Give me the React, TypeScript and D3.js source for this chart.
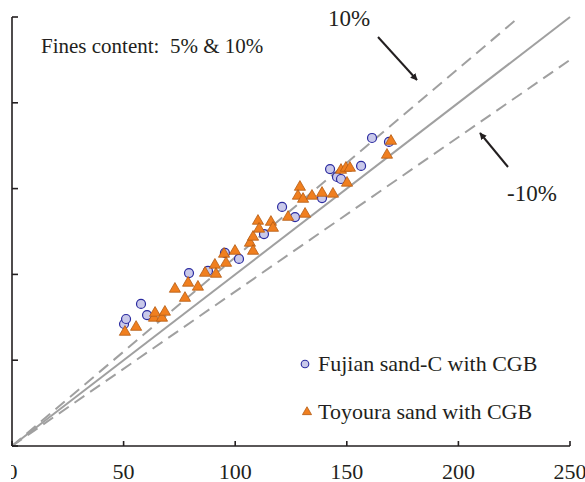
import React, { useRef, useEffect } from 'react';
import * as d3 from 'd3';

const fujianX = [50.2, 51.1, 57.8, 60.5, 79.3, 87.8, 95.4, 101.7, 112.9, 121.0, 126.8, 138.9, 142.5, 145.6, 147.4, 156.4, 161.3, 168.9];
const fujianY = [71.1, 74.0, 82.8, 76.3, 100.8, 102.0, 112.5, 109.0, 123.5, 139.3, 133.4, 144.5, 161.4, 156.8, 155.6, 163.2, 179.5, 177.2];

const toyouraX = [50.6, 55.6, 63.6, 64.1, 67.2, 68.5, 73.0, 77.5, 78.9, 83.3, 86.5, 90.9, 91.4, 95.0, 95.9, 99.9, 106.6, 108.0, 108.0, 110.2, 110.7, 116.0, 116.9, 123.7, 129.0, 128.1, 130.4, 131.3, 134.4, 138.9, 143.8, 147.4, 149.6, 151.4, 150.1, 168.0, 169.8];
const toyouraY = [66.4, 69.3, 74.6, 77.5, 74.6, 78.1, 91.5, 86.2, 95.0, 92.7, 100.8, 105.5, 100.2, 111.9, 106.6, 113.6, 118.3, 121.8, 113.6, 131.1, 126.5, 130.5, 127.0, 133.4, 150.9, 145.7, 143.9, 135.2, 145.7, 147.4, 146.9, 160.8, 162.0, 162.0, 153.3, 169.6, 177.7];

const xTicks = [0, 50, 100, 150, 200, 250];
const yTicks = [0, 50, 100, 150, 200, 250];

const legendLabels = ['Fujian sand-C with CGB', 'Toyoura sand with CGB'];

const FONT = '"Liberation Serif", "Times New Roman", serif';
const AXIS = '#231f20';
const GUIDE = '#a0a0a0';
const CIRCLE_FILL = '#c9c9ea';
const CIRCLE_STROKE = '#2b2ba0';
const TRI_FILL = '#f07f1f';
const TRI_STROKE = '#b45c14';

export default function App() {
  const svgRef = useRef<SVGSVGElement>(null);

  useEffect(() => {
    if (!svgRef.current) return;
    const svg = d3.select(svgRef.current);
    svg.selectAll('*').remove();

    const width = 585;
    const height = 482;
    const margin = { top: 17, right: 15, bottom: 36, left: 12 };
    const innerWidth = width - margin.left - margin.right;
    const innerHeight = height - margin.top - margin.bottom;

    const defs = svg.append('defs');
    // the source figure is cropped on its left edge
    defs.append('clipPath').attr('id', 'crop')
      .append('rect').attr('x', 11).attr('y', 0).attr('width', width).attr('height', height);
    defs.append('marker')
      .attr('id', 'arrow')
      .attr('viewBox', '0 0 10 10')
      .attr('refX', 9)
      .attr('refY', 5)
      .attr('markerWidth', 7)
      .attr('markerHeight', 7)
      .attr('markerUnits', 'userSpaceOnUse')
      .attr('orient', 'auto')
      .append('path')
      .attr('d', 'M0,0 L10,5 L0,10 Z')
      .attr('fill', AXIS);

    const root = svg.append('g').attr('clip-path', 'url(#crop)');
    const g = root.append('g').attr('transform', `translate(${margin.left},${margin.top})`);

    const x = d3.scaleLinear().domain([0, 250]).range([0, innerWidth]);
    const y = d3.scaleLinear().domain([0, 250]).range([innerHeight, 0]);

    // 1:1 and +/-10% lines
    const guides = [
      { k: 1.1, dash: '12,7' },
      { k: 0.9, dash: '12,7' },
      { k: 1.0, dash: null },
    ];
    guides.forEach((d) => {
      const xEnd = Math.min(250, 250 / d.k);
      const line = g.append('line')
        .attr('x1', x(0))
        .attr('y1', y(0))
        .attr('x2', x(xEnd))
        .attr('y2', y(xEnd * d.k))
        .attr('stroke', GUIDE)
        .attr('stroke-width', 2);
      if (d.dash) line.attr('stroke-dasharray', d.dash);
    });

    // Axes
    g.append('line')
      .attr('x1', x(0)).attr('x2', x(250)).attr('y1', y(0)).attr('y2', y(0))
      .attr('stroke', AXIS).attr('stroke-width', 1.6);
    g.append('line')
      .attr('x1', x(0)).attr('x2', x(0)).attr('y1', y(0)).attr('y2', y(250))
      .attr('stroke', AXIS).attr('stroke-width', 1.6);

    g.selectAll('.xtick')
      .data(xTicks)
      .enter()
      .append('line')
      .attr('x1', (d) => x(d)).attr('x2', (d) => x(d))
      .attr('y1', y(0)).attr('y2', y(0) - 5)
      .attr('stroke', AXIS).attr('stroke-width', 1.6);

    g.selectAll('.ytick')
      .data(yTicks)
      .enter()
      .append('line')
      .attr('x1', x(0)).attr('x2', x(0) + 6)
      .attr('y1', (d) => y(d)).attr('y2', (d) => y(d))
      .attr('stroke', AXIS).attr('stroke-width', 1.6);

    g.selectAll('.xlabel')
      .data(xTicks)
      .enter()
      .append('text')
      .attr('x', (d) => x(d))
      .attr('y', y(0) + 33)
      .attr('text-anchor', 'middle')
      .attr('font-family', FONT)
      .attr('font-size', 22)
      .attr('fill', AXIS)
      .text((d) => d);

    // Data
    const fujian = fujianX.map((v, i) => ({ x: v, y: fujianY[i] }));
    const toyoura = toyouraX.map((v, i) => ({ x: v, y: toyouraY[i] }));

    g.selectAll('.circ')
      .data(fujian)
      .enter()
      .append('circle')
      .attr('cx', (d) => x(d.x))
      .attr('cy', (d) => y(d.y))
      .attr('r', 4.5)
      .attr('fill', CIRCLE_FILL)
      .attr('stroke', CIRCLE_STROKE)
      .attr('stroke-width', 1.2);

    g.selectAll('.tri')
      .data(toyoura)
      .enter()
      .append('path')
      .attr('d', d3.symbol().type(d3.symbolTriangle).size(54)())
      .attr('transform', (d) => `translate(${x(d.x)},${y(d.y)})`)
      .attr('fill', TRI_FILL)
      .attr('stroke', TRI_STROKE)
      .attr('stroke-width', 0.8);

    // Annotations
    root.append('text')
      .attr('x', 41).attr('y', 53)
      .attr('font-family', FONT).attr('font-size', 21).attr('fill', AXIS)
      .attr('xml:space', 'preserve')
      .text('Fines content:  5% & 10%');

    root.append('text')
      .attr('x', 328).attr('y', 26)
      .attr('font-family', FONT).attr('font-size', 23).attr('fill', AXIS)
      .text('10%');
    root.append('line')
      .attr('x1', 378).attr('y1', 37).attr('x2', 417).attr('y2', 80)
      .attr('stroke', AXIS).attr('stroke-width', 2)
      .attr('marker-end', 'url(#arrow)');

    root.append('text')
      .attr('x', 507).attr('y', 201)
      .attr('font-family', FONT).attr('font-size', 23).attr('fill', AXIS)
      .text('-10%');
    root.append('line')
      .attr('x1', 508).attr('y1', 167).attr('x2', 480).attr('y2', 133)
      .attr('stroke', AXIS).attr('stroke-width', 2)
      .attr('marker-end', 'url(#arrow)');

    // Legend
    const legend = root.append('g');
    legend.append('circle')
      .attr('cx', 305).attr('cy', 364).attr('r', 3.8)
      .attr('fill', CIRCLE_FILL).attr('stroke', CIRCLE_STROKE).attr('stroke-width', 1.1);
    legend.append('path')
      .attr('d', d3.symbol().type(d3.symbolTriangle).size(36)())
      .attr('transform', 'translate(307,412)')
      .attr('fill', TRI_FILL).attr('stroke', TRI_STROKE).attr('stroke-width', 0.8);
    legend.selectAll('.ltext')
      .data(legendLabels)
      .enter()
      .append('text')
      .attr('x', 318)
      .attr('y', (d, i) => 371 + i * 48)
      .attr('font-family', FONT)
      .attr('font-size', 22)
      .attr('fill', AXIS)
      .text((d) => d);
  }, []);

  return (
    <div style={{ position: 'absolute', left: 0, top: 0, width: 585, height: 482, background: '#fff' }}>
      <svg ref={svgRef} width={585} height={482} style={{ display: 'block' }} />
    </div>
  );
}
